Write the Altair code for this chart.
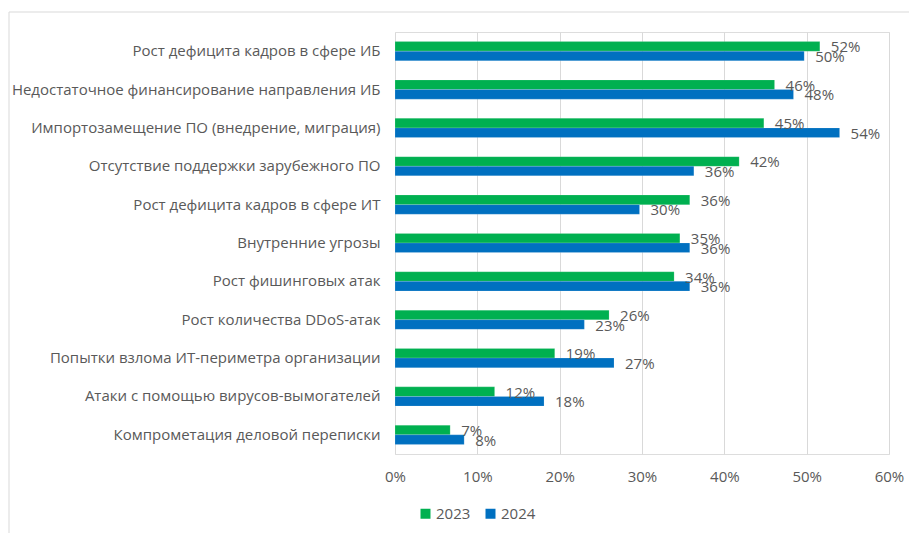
import altair as alt
import pandas as pd

categories = [
    "Рост дефицита кадров в сфере ИБ",
    "Недостаточное финансирование направления ИБ",
    "Импортозамещение ПО (внедрение, миграция)",
    "Отсутствие поддержки зарубежного ПО",
    "Рост дефицита кадров в сфере ИТ",
    "Внутренние угрозы",
    "Рост фишинговых атак",
    "Рост количества DDoS-атак",
    "Попытки взлома ИТ-периметра организации",
    "Атаки с помощью вирусов-вымогателей",
    "Компрометация деловой переписки",
]
values_2023 = [51.6, 46.1, 44.8, 41.8, 35.8, 34.6, 33.9, 26.0, 19.4, 12.1, 6.7]
values_2024 = [49.7, 48.4, 54.0, 36.3, 29.7, 35.8, 35.8, 23.0, 26.6, 18.1, 8.4]
labels_2023 = ["52%", "46%", "45%", "42%", "36%", "35%", "34%", "26%", "19%", "12%", "7%"]
labels_2024 = ["50%", "48%", "54%", "36%", "30%", "36%", "36%", "23%", "27%", "18%", "8%"]
years = ["2023", "2024"]
colors = ["#00B050", "#0070C0"]

rows = []
for i, c in enumerate(categories):
    rows.append({"cat": c, "year": years[0], "value": values_2023[i], "label": labels_2023[i]})
    rows.append({"cat": c, "year": years[1], "value": values_2024[i], "label": labels_2024[i]})
df = pd.DataFrame(rows)

FONT = "Open Sans"
TXT = "#595959"
FS = 15

y_enc = alt.Y("cat:N", sort=categories, title=None,
              scale=alt.Scale(paddingInner=0.5, paddingOuter=0.25),
              axis=alt.Axis(labelFont=FONT, labelFontSize=FS, labelColor=TXT,
                            labelPadding=15, ticks=False, domain=False, labelLimit=400))
x_enc = alt.X("value:Q", title=None,
              scale=alt.Scale(domain=[0, 60], nice=False),
              axis=alt.Axis(values=[0, 10, 20, 30, 40, 50, 60], labelExpr="datum.value + '%'",
                            labelFont=FONT, labelFontSize=FS, labelColor=TXT, labelPadding=15,
                            labelFlush=False, ticks=False, domain=False, grid=True,
                            gridColor="#d9d9d9", gridWidth=1))
yoff = alt.YOffset("year:N", sort=years)

bars = alt.Chart(df).mark_bar(stroke="#ffffff", strokeWidth=0.3, strokeOpacity=0.5).encode(
    y=y_enc, x=x_enc, yOffset=yoff,
    color=alt.Color("year:N", sort=years,
                    scale=alt.Scale(domain=years, range=colors),
                    legend=alt.Legend(title=None, orient="none", legendX=23, legendY=474,
                                      direction="horizontal", symbolType="square",
                                      symbolSize=100, symbolStrokeWidth=0,
                                      labelFont=FONT, labelFontSize=FS, labelColor=TXT,
                                      columnPadding=12, labelOffset=3)),
)

text = alt.Chart(df).mark_text(align="left", baseline="middle", dx=11, dy=1,
                               font=FONT, fontSize=FS, color=TXT).encode(
    y=alt.Y("cat:N", sort=categories), x="value:Q", yOffset=yoff, text="label:N")

border = alt.Chart(pd.DataFrame({"a": [0]})).mark_rect(
    fill=None, stroke="#d9d9d9", strokeWidth=1, clip=False).encode(
    x=alt.value(-386), x2=alt.value(540), y=alt.value(-20), y2=alt.value(600))

chart = alt.layer(border, bars, text).properties(
    width=494, height=422,
    autosize=alt.AutoSizeParams(type="none"),
    padding={"left": 387, "top": 24, "right": 20, "bottom": 80},
).configure_view(stroke=None).configure(background="#ffffff")

chart.save("out.html", embed_options={"renderer": "svg", "actions": False})
